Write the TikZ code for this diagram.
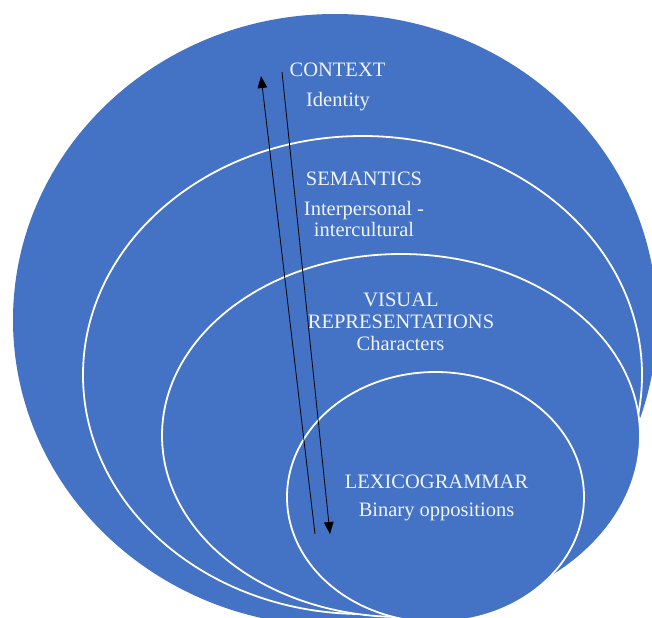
\documentclass[tikz,border=0pt]{standalone}
\usepackage{fontspec}
\setmainfont{Liberation Serif}
\usetikzlibrary{arrows.meta}
\definecolor{ringblue}{RGB}{68,114,196}
\definecolor{labelwhite}{RGB}{240,244,252}
\begin{document}
\begin{tikzpicture}[x=1bp,y=-1bp,
  ring/.style={fill=ringblue, draw=white, line width=1.8bp},
  lbl/.style={text=labelwhite, font=\fontsize{20.5bp}{23bp}\selectfont, anchor=base, inner sep=0pt},
  flow/.style={draw=black, line width=0.8bp, -{Triangle[length=12bp,width=9.5bp]}}]
\useasboundingbox (0,0) rectangle (652,618);
\clip (0,0) rectangle (652,618);
% nested ellipses
\fill[ringblue] (335,320) ellipse [x radius=322, y radius=306];
\path[ring] (362.5,375) ellipse [x radius=279.5, y radius=239];
\path[ring] (401,435.5) ellipse [x radius=239, y radius=181.5];
\path[ring] (435.5,497) ellipse [x radius=148.5, y radius=125];
% labels
\node[lbl] (context) at (337.5,77) {CONTEXT};
\node[lbl] (identity) at (338,107) {Identity};
\node[lbl] (sem) at (364,186) {SEMANTICS};
\node[lbl] (inter1) at (364,215) {Interpersonal -};
\node[lbl] (inter2) at (364,236.5) {intercultural};
\node[lbl] (vis1) at (401,306.7) {VISUAL};
\node[lbl] (vis2) at (401,328.3) {REPRESENTATIONS};
\node[lbl] (chars) at (400.5,350.7) {Characters};
\node[lbl] (lex) at (436.5,488.3) {LEXICOGRAMMAR};
\node[lbl] (bin) at (436.5,516) {Binary oppositions};
% arrows
\coordinate (upstart) at (315,534);
\coordinate (upend) at (261,76);
\coordinate (downstart) at (282,72);
\coordinate (downend) at (330,534);
\draw[flow] (upstart) -- (upend);
\draw[flow] (downstart) -- (downend);
\end{tikzpicture}
\end{document}
